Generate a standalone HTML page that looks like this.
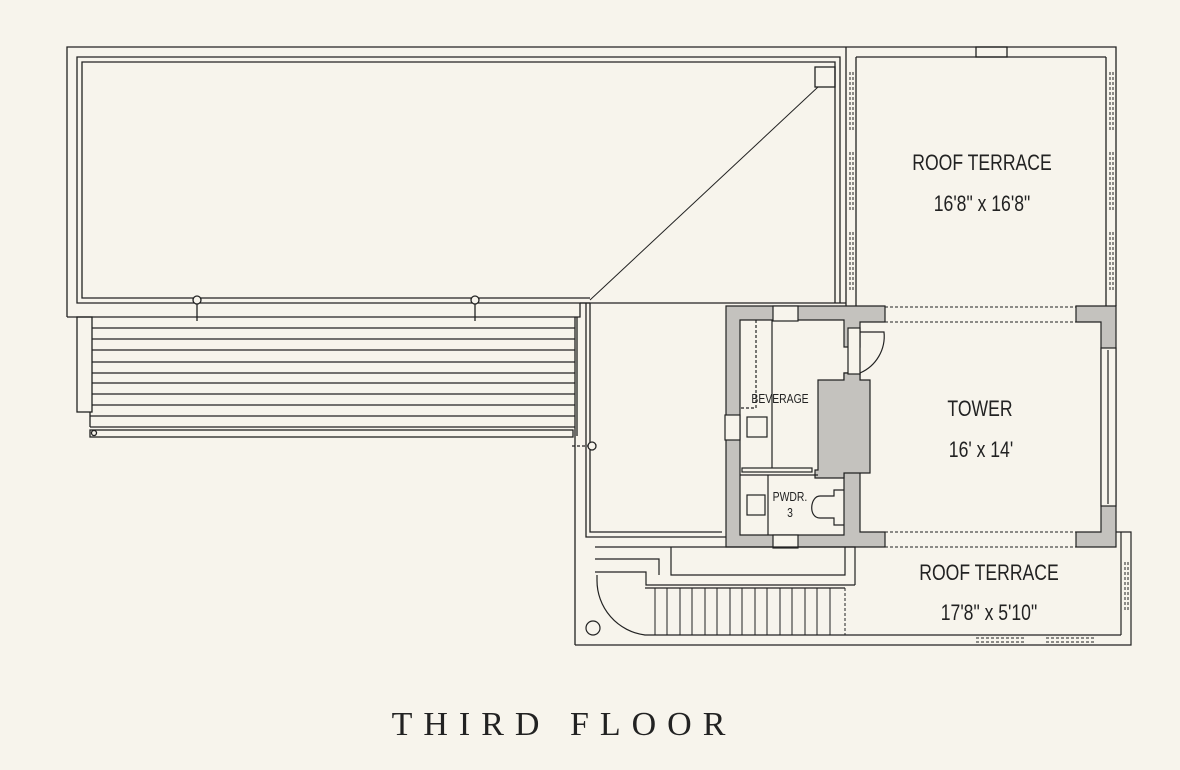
<!DOCTYPE html>
<html><head><style>
html,body{margin:0;padding:0;background:#f7f4ec;}
svg{display:block}
.t{font-family:"Liberation Sans",sans-serif;fill:#222;}
</style></head><body>
<svg width="1180" height="770" viewBox="0 0 1180 770" xmlns="http://www.w3.org/2000/svg">
<rect width="1180" height="770" fill="#f7f4ec"/>
<g fill="none" stroke="#222" stroke-width="1.3">
<polyline points="67,317 67,47 1116,47 1116,306"/>
<line x1="846" y1="47" x2="846" y2="306"/>
<line x1="856" y1="57" x2="856" y2="306"/>
<line x1="1106" y1="57" x2="1106" y2="306"/>
<line x1="856" y1="57" x2="1106" y2="57"/>
<rect x="976" y="47" width="31" height="10"/>
<polyline points="67,317 580,317 580,303"/>
<polyline points="590,303 77,303 77,57 840,57 840,303"/>
<polyline points="590,298 82,298 82,62 835,62 835,303"/>
<line x1="580" y1="303" x2="846" y2="303"/>
<rect x="815" y="67" width="20" height="20"/>
<line x1="818" y1="87" x2="590" y2="300" stroke-width="1"/>
<polyline points="590,303 590,532 722,532"/>
<polyline points="586,303 586,537 726,537"/>
<line x1="575" y1="317" x2="575" y2="645"/>
<line x1="577" y1="317" x2="577" y2="436"/>
<rect x="77" y="317" width="15" height="95"/>
<line x1="92" y1="328" x2="575" y2="328"/><line x1="92" y1="339" x2="575" y2="339"/>
<line x1="92" y1="350" x2="575" y2="350"/><line x1="92" y1="362" x2="575" y2="362"/>
<line x1="92" y1="373" x2="575" y2="373"/><line x1="92" y1="383" x2="575" y2="383"/>
<line x1="92" y1="394" x2="575" y2="394"/><line x1="92" y1="405" x2="575" y2="405"/>
<line x1="90" y1="416" x2="575" y2="416"/><line x1="90" y1="412" x2="90" y2="427"/>
<line x1="90" y1="427" x2="575" y2="427"/>
<rect x="90" y="430" width="483" height="7"/>
<circle cx="94" cy="433" r="2.5"/>
<circle cx="197" cy="300" r="4" fill="#f7f4ec"/><line x1="197" y1="304" x2="197" y2="321"/>
<circle cx="475" cy="300" r="4" fill="#f7f4ec"/><line x1="475" y1="304" x2="475" y2="321"/>
<circle cx="592" cy="446" r="4" fill="#f7f4ec"/><line x1="572" y1="446" x2="588" y2="446" stroke-dasharray="3,2"/>
<g stroke-dasharray="3,2" stroke-width="1">
<line x1="850" y1="72" x2="850" y2="132"/><line x1="853" y1="72" x2="853" y2="132"/>
<line x1="850" y1="152" x2="850" y2="212"/><line x1="853" y1="152" x2="853" y2="212"/>
<line x1="850" y1="232" x2="850" y2="292"/><line x1="853" y1="232" x2="853" y2="292"/>
<line x1="1110" y1="72" x2="1110" y2="132"/><line x1="1113" y1="72" x2="1113" y2="132"/>
<line x1="1110" y1="152" x2="1110" y2="212"/><line x1="1113" y1="152" x2="1113" y2="212"/>
<line x1="1110" y1="232" x2="1110" y2="292"/><line x1="1113" y1="232" x2="1113" y2="292"/>
<line x1="885" y1="322" x2="1076" y2="322"/><line x1="885" y1="307" x2="1076" y2="307"/>
<line x1="885" y1="532" x2="1076" y2="532"/><line x1="885" y1="547" x2="1076" y2="547"/>
<line x1="1125" y1="562" x2="1125" y2="610"/><line x1="1128" y1="562" x2="1128" y2="610"/>
<line x1="976" y1="638" x2="1026" y2="638"/><line x1="976" y1="642" x2="1026" y2="642"/>
<line x1="1046" y1="638" x2="1096" y2="638"/><line x1="1046" y1="642" x2="1096" y2="642"/>
<line x1="845" y1="588" x2="845" y2="635"/>
</g>
</g>
<g fill="#c4c2be" stroke="#222" stroke-width="1.2">
<path d="M726,306 H885 V322 H860 V347 H844 V320 H740 V535 H844 V373 H860 V532 H885 V547 H726 Z"/>
<path d="M1076,306 H1116 V547 H1076 V532 H1101 V322 H1076 Z"/>
<path d="M818,380 H844 V373 H860 V380 H870 V473 H844 V478 H815 V470 H818 Z"/>
</g>
<g fill="none" stroke="#222" stroke-width="1.2">
<rect x="773" y="306" width="25" height="15" fill="#f7f4ec"/>
<rect x="773" y="535" width="25" height="13" fill="#f7f4ec"/>
<rect x="725" y="415" width="15" height="25" fill="#f7f4ec"/>
<rect x="1101" y="348" width="15" height="158" fill="#f7f4ec"/>
<line x1="1108" y1="350" x2="1108" y2="504"/>
<rect x="848" y="328" width="12" height="46" fill="#f7f4ec"/>
<path d="M860,332 H884 A40,40 0 0 1 860,373"/>
<line x1="772" y1="320" x2="772" y2="468"/>
<path d="M756,320 V408 H740" stroke-dasharray="3,2"/>
<rect x="747" y="417" width="20" height="20"/>
<rect x="742" y="468" width="70" height="4"/>
<line x1="740" y1="475" x2="818" y2="475"/>
<line x1="768" y1="475" x2="768" y2="535"/>
<rect x="747" y="495" width="18" height="20"/>
<path d="M844,490 H834 V496 H820 C810,496 808,518 820,518 H834 V525 H844"/>
<polyline points="575,645 1131,645 1131,532 1116,532"/>
<line x1="1121" y1="532" x2="1121" y2="635"/>
<line x1="845" y1="635" x2="1121" y2="635"/>
<polyline points="595,547 855,547 855,585"/>
<polyline points="671,547 671,575 845,575 845,547"/>
<polyline points="595,559 659,559 659,575"/>
<polyline points="595,572 646,572 646,585 855,585"/>
<path d="M597,575 V580 A55,55 0 0 0 645,635 H845"/>
<line x1="645" y1="588" x2="845" y2="588"/>
<circle cx="593" cy="628" r="7"/>
</g>
<g stroke="#222" stroke-width="1">
<line x1="655" y1="588" x2="655" y2="635"/><line x1="667" y1="588" x2="667" y2="635"/>
<line x1="680" y1="588" x2="680" y2="635"/><line x1="692" y1="588" x2="692" y2="635"/>
<line x1="705" y1="588" x2="705" y2="635"/><line x1="717" y1="588" x2="717" y2="635"/>
<line x1="730" y1="588" x2="730" y2="635"/><line x1="742" y1="588" x2="742" y2="635"/>
<line x1="755" y1="588" x2="755" y2="635"/><line x1="767" y1="588" x2="767" y2="635"/>
<line x1="780" y1="588" x2="780" y2="635"/><line x1="792" y1="588" x2="792" y2="635"/>
<line x1="805" y1="588" x2="805" y2="635"/><line x1="817" y1="588" x2="817" y2="635"/>
<line x1="830" y1="588" x2="830" y2="635"/>
</g>
<g class="t" text-anchor="middle">
<text x="982" y="170" font-size="22" transform="translate(982,0) scale(0.8,1) translate(-982,0)">ROOF TERRACE</text>
<text x="982" y="211" font-size="22" transform="translate(982,0) scale(0.8,1) translate(-982,0)">16'8" x 16'8"</text>
<text x="980" y="416" font-size="22" transform="translate(980,0) scale(0.8,1) translate(-980,0)">TOWER</text>
<text x="981" y="457" font-size="22" transform="translate(981,0) scale(0.8,1) translate(-981,0)">16' x 14'</text>
<text x="989" y="580" font-size="22" transform="translate(989,0) scale(0.8,1) translate(-989,0)">ROOF TERRACE</text>
<text x="989" y="620" font-size="22" transform="translate(989,0) scale(0.8,1) translate(-989,0)">17'8" x 5'10"</text>
<text x="780" y="403" font-size="13" transform="translate(780,0) scale(0.8,1) translate(-780,0)">BEVERAGE</text>
<text x="790" y="501" font-size="13" transform="translate(790,0) scale(0.8,1) translate(-790,0)">PWDR.</text>
<text x="790" y="517" font-size="13" transform="translate(790,0) scale(0.8,1) translate(-790,0)">3</text>
<text x="564" y="735" font-size="34" letter-spacing="11" style="font-family:'Liberation Serif',serif">THIRD FLOOR</text>
</g>
</svg>
</body></html>
